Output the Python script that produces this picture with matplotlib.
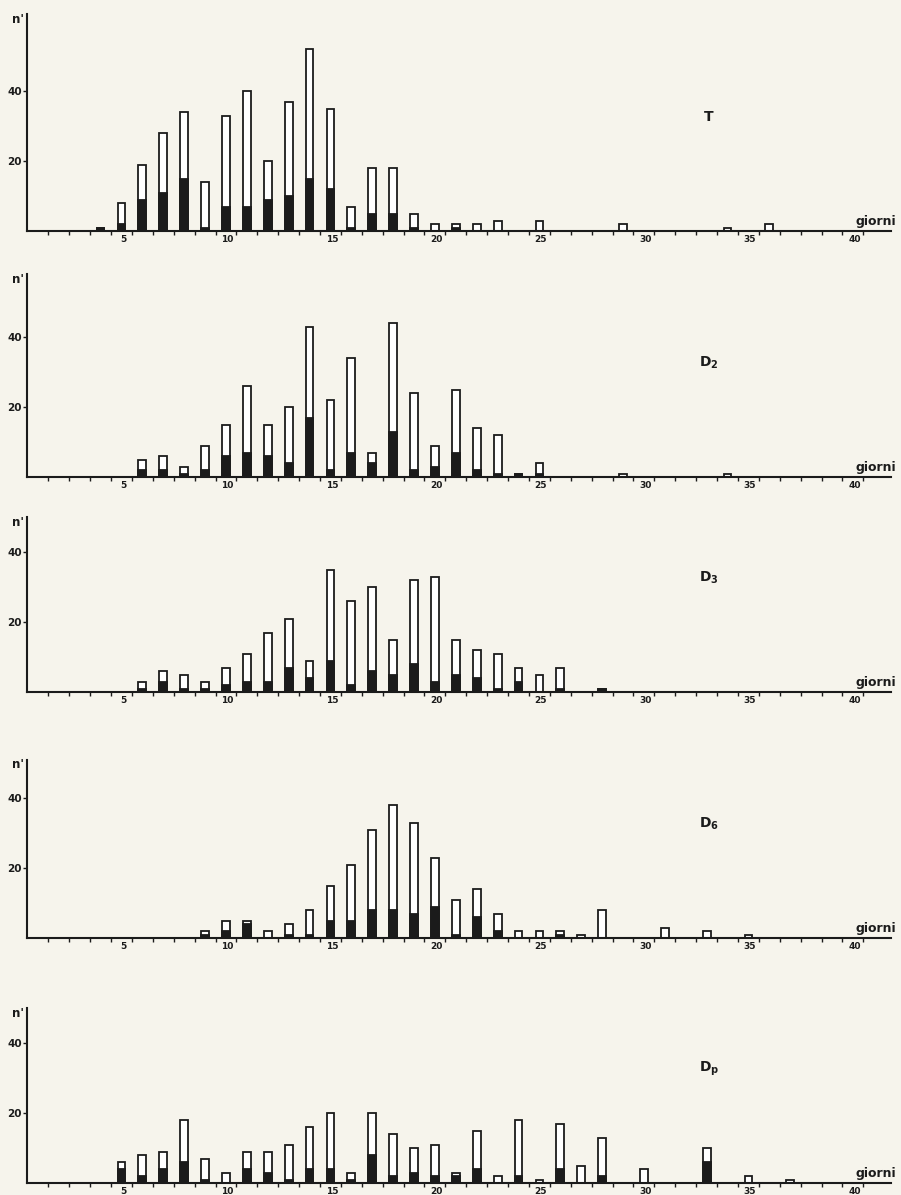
import matplotlib
matplotlib.use("Agg")
import matplotlib.pyplot as plt
import numpy as np
from matplotlib.transforms import ScaledTranslation

# ---- data (counts per day; black = lower filled part) ----
T_days = [3, 4, 5, 6, 7, 8, 9, 10, 11, 12, 13, 14, 15, 16, 17, 18, 19, 20, 21, 22, 24, 28, 33, 35]
T_total = [1, 8, 19, 28, 34, 14, 33, 40, 20, 37, 52, 35, 7, 18, 18, 5, 2, 2, 2, 3, 3, 2, 1, 2]
T_black = [1, 2, 9, 11, 15, 1, 7, 7, 9, 10, 15, 12, 1, 5, 5, 1, 0, 1, 0, 0, 0, 0, 0, 0]

D2_days = [5, 6, 7, 8, 9, 10, 11, 12, 13, 14, 15, 16, 17, 18, 19, 20, 21, 22, 23, 24, 28, 33]
D2_total = [5, 6, 3, 9, 15, 26, 15, 20, 43, 22, 34, 7, 44, 24, 9, 25, 14, 12, 1, 4, 1, 1]
D2_black = [2, 2, 1, 2, 6, 7, 6, 4, 17, 2, 7, 4, 13, 2, 3, 7, 2, 1, 1, 1, 0, 0]

D3_days = [5, 6, 7, 8, 9, 10, 11, 12, 13, 14, 15, 16, 17, 18, 19, 20, 21, 22, 23, 24, 25, 27]
D3_total = [3, 6, 5, 3, 7, 11, 17, 21, 9, 35, 26, 30, 15, 32, 33, 15, 12, 11, 7, 5, 7, 1]
D3_black = [1, 3, 1, 1, 2, 3, 3, 7, 4, 9, 2, 6, 5, 8, 3, 5, 4, 1, 3, 0, 1, 1]

D6_days = [8, 9, 10, 11, 12, 13, 14, 15, 16, 17, 18, 19, 20, 21, 22, 23, 24, 25, 26, 27, 30, 32, 34]
D6_total = [2, 5, 5, 2, 4, 8, 15, 21, 31, 38, 33, 23, 11, 14, 7, 2, 2, 2, 1, 8, 3, 2, 1]
D6_black = [1, 2, 4, 0, 1, 1, 5, 5, 8, 8, 7, 9, 1, 6, 2, 0, 0, 1, 0, 0, 0, 0, 0]

Dp_days = [4, 5, 6, 7, 8, 9, 10, 11, 12, 13, 14, 15, 16, 17, 18, 19, 20, 21, 22, 23, 24, 25, 26, 27, 29, 32, 34, 36]
Dp_total = [6, 8, 9, 18, 7, 3, 9, 9, 11, 16, 20, 3, 20, 14, 10, 11, 3, 15, 2, 18, 1, 17, 5, 13, 4, 10, 2, 1]
Dp_black = [4, 2, 4, 6, 1, 0, 4, 3, 1, 4, 4, 1, 8, 2, 3, 2, 2, 4, 0, 2, 0, 4, 0, 2, 0, 6, 0, 0]

panels = [
    ("T", T_days, T_total, T_black),
    ("$\\mathbf{D_2}$", D2_days, D2_total, D2_black),
    ("$\\mathbf{D_3}$", D3_days, D3_total, D3_black),
    ("$\\mathbf{D_6}$", D6_days, D6_total, D6_black),
    ("$\\mathbf{D_p}$", Dp_days, Dp_total, Dp_black),
]

# ---- page geometry (pixels of the 901x1195 scan) ----
W, H = 901, 1195
X0, PX_DAY, XMAX = 27.4, 20.9, 41.3
PX_UNIT = 3.5
baselines = [231, 477, 692, 938, 1183]
ytops = [62, 58, 50, 51, 50]
INK = "#1b1b1b"
PAPER = "#f6f4ec"

plt.rcParams["mathtext.fontset"] = "dejavusans"

fig = plt.figure(figsize=(W / 100, H / 100), dpi=100, facecolor=PAPER)
shift = ScaledTranslation(-9 / 100, 0, fig.dpi_scale_trans)

for (title, days, total, black), base, ytop in zip(panels, baselines, ytops):
    rect = [X0 / W, 1 - base / H, XMAX * PX_DAY / W, ytop * PX_UNIT / H]
    ax = fig.add_axes(rect)
    ax.set_facecolor("none")
    x = np.array(days) + 0.5
    ax.bar(x, total, width=0.37, facecolor="white", edgecolor=INK, lw=1.3, zorder=2)
    blk = np.array(black)
    m = blk > 0
    ax.bar(x[m], blk[m], width=0.37, color=INK, edgecolor=INK, lw=1.3, zorder=3)

    ax.set_xlim(0, XMAX)
    ax.set_ylim(0, ytop)
    for s in ("top", "right"):
        ax.spines[s].set_visible(False)
    for s in ("left", "bottom"):
        ax.spines[s].set_linewidth(1.5)
        ax.spines[s].set_color(INK)
        ax.spines[s].set_zorder(4)

    ax.set_xticks(range(5, 41, 5))
    ax.set_xticks(range(1, 41), minor=True)
    ax.set_xticklabels([str(v) for v in range(5, 41, 5)], fontsize=6.5, fontweight="bold", color=INK)
    ax.tick_params(axis="x", which="both", direction="out", length=3, width=1, color=INK, pad=0)
    for lbl in ax.get_xticklabels():
        lbl.set_transform(lbl.get_transform() + shift)

    ax.set_yticks([20, 40])
    ax.set_yticklabels(["20", "40"], fontsize=7.5, fontweight="bold", color=INK)
    ax.tick_params(axis="y", direction="out", length=3, width=1, color=INK, pad=1)

    ax.text(-0.15, ytop - 1.5, "n'", ha="right", va="center", fontsize=8.5, fontweight="bold", color=INK)
    ax.text(39.6, 0.9, "giorni", ha="left", va="bottom", fontsize=9, fontweight="bold", color=INK)
    ax.text(32.6, 32.5, title, ha="center", va="center", fontsize=10, fontweight="bold", color=INK)

fig.savefig("out.png", dpi=100, facecolor=PAPER)
